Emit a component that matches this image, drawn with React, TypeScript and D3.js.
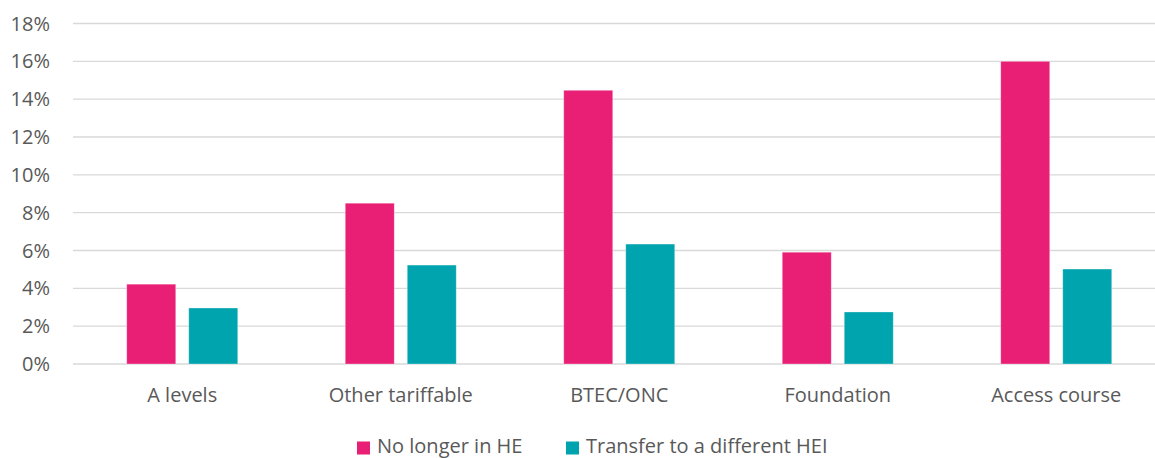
import { useEffect, useRef } from "react";
import * as d3 from "d3";

const categories = ["A levels", "Other tariffable", "BTEC/ONC", "Foundation", "Access course"];
const noLongerInHE = [4.22, 8.5, 14.47, 5.91, 16.0];
const transferHEI = [2.96, 5.23, 6.34, 2.75, 5.02];
const seriesNames = ["No longer in HE", "Transfer to a different HEI"];
const seriesColors = ["#E91E75", "#00A4AE"];
const yTicks = [0, 2, 4, 6, 8, 10, 12, 14, 16, 18];

export default function App() {
  const chart = useRef<SVGSVGElement | null>(null);

  useEffect(() => {
    const svg = d3.select(chart.current);
    svg.selectAll("*").remove();
    const width = 1155;
    const height = 458;
    const margin = { top: 23.5, left: 73, bottom: 94 };
    const font = "'Open Sans', sans-serif";
    const fs = 20;

    const x = d3.scaleBand<string>()
      .domain(categories)
      .range([margin.left, margin.left + 218.5 * categories.length]);
    const y = d3.scaleLinear([0, 18], [height - margin.bottom, margin.top]);

    // gridlines
    svg.append("g")
      .selectAll("line")
      .data(yTicks)
      .join("line")
      .attr("x1", margin.left)
      .attr("x2", width)
      .attr("y1", d => y(d))
      .attr("y2", d => y(d))
      .attr("stroke", "#d9d9d9")
      .attr("stroke-width", 1.3);

    // y labels
    svg.append("g")
      .selectAll("text")
      .data(yTicks)
      .join("text")
      .attr("x", 50)
      .attr("y", d => y(d))
      .attr("dy", "0.35em")
      .attr("text-anchor", "end")
      .attr("font-family", font)
      .attr("font-size", fs)
      .attr("fill", "#595959")
      .text(d => d + "%");

    const barW = 49;
    const gap = 13;
    const series = [noLongerInHE, transferHEI];
    series.forEach((vals, s) => {
      svg.append("g")
        .selectAll("rect")
        .data(vals)
        .join("rect")
        .attr("x", (d, i) => x(categories[i])! + x.bandwidth() / 2 - barW - gap / 2 + s * (barW + gap))
        .attr("y", d => y(d))
        .attr("width", barW)
        .attr("height", d => y(0) - y(d))
        .attr("fill", seriesColors[s])
        .attr("stroke", "#ffffff")
        .attr("stroke-opacity", 0.4)
        .attr("stroke-width", 0.8);
    });

    // x labels
    svg.append("g")
      .selectAll("text")
      .data(categories)
      .join("text")
      .attr("x", d => x(d)! + x.bandwidth() / 2)
      .attr("y", 402)
      .attr("text-anchor", "middle")
      .attr("font-family", font)
      .attr("font-size", fs)
      .attr("fill", "#595959")
      .text(d => d);

    // legend
    const legendX = [357, 566];
    const lg = svg.append("g");
    seriesNames.forEach((name, i) => {
      lg.append("rect")
        .attr("x", legendX[i])
        .attr("y", 441.5)
        .attr("width", 13)
        .attr("height", 13)
        .attr("fill", seriesColors[i]);
      lg.append("text")
        .attr("x", legendX[i] + 20)
        .attr("y", 453)
        .attr("font-family", font)
        .attr("font-size", fs)
        .attr("fill", "#595959")
        .text(name);
    });
  }, []);

  return (
    <svg
      ref={chart}
      width={1155}
      height={458}
      style={{ position: "absolute", left: 0, top: 0, background: "#fff" }}
    />
  );
}
